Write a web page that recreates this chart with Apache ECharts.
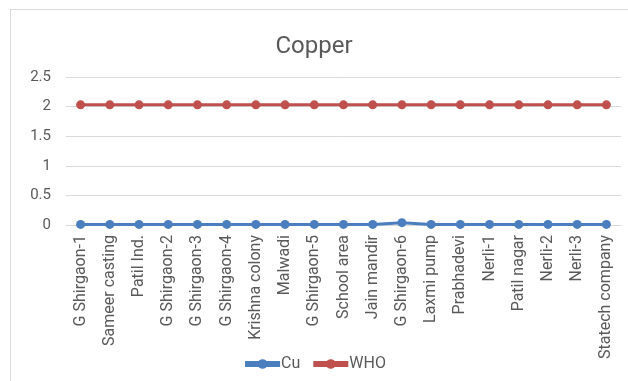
<!DOCTYPE html>
<html>
<head>
<meta charset="utf-8">
<script src="https://cdn.jsdelivr.net/npm/echarts@6/dist/echarts.min.js"></script>
<style>
  html, body { margin: 0; padding: 0; background: #fff; }
  #wrap { position: relative; width: 628px; height: 381px; overflow: hidden; }
  #frame { position: absolute; left: 10px; top: 9px; width: 640px; height: 400px; border: 1px solid #d9d9d9; box-sizing: border-box; }
  #chart { position: absolute; left: 0; top: 0; width: 628px; height: 381px; }
</style>
</head>
<body>
<div id="wrap">
  <div id="frame"></div>
  <div id="chart"></div>
</div>
<script>
// Sampling sites along the x axis
const sites = [
  'G Shirgaon-1', 'Sameer casting', 'Patil Ind.', 'G Shirgaon-2', 'G Shirgaon-3',
  'G Shirgaon-4', 'Krishna colony', 'Malwadi', 'G Shirgaon-5', 'School area',
  'Jain mandir', 'G Shirgaon-6', 'Laxmi pump', 'Prabhadevi', 'Nerli-1',
  'Patil nagar', 'Nerli-2', 'Nerli-3', 'Statech company'
];

// Copper concentration at each site
const cuValues = [0.01, 0.01, 0.01, 0.01, 0.01, 0.01, 0.01, 0.01, 0.01, 0.01,
                  0.01, 0.04, 0.01, 0.01, 0.01, 0.01, 0.01, 0.01, 0.01];

// WHO guideline limit
const whoValues = [2.03, 2.03, 2.03, 2.03, 2.03, 2.03, 2.03, 2.03, 2.03, 2.03,
                   2.03, 2.03, 2.03, 2.03, 2.03, 2.03, 2.03, 2.03, 2.03];

const yTicks = { min: 0, max: 2.5, interval: 0.5 };

const chart = echarts.init(document.getElementById('chart'), null, { renderer: 'canvas' });
const font = 'Roboto, "Liberation Sans", sans-serif';

chart.setOption({
  animation: false,
  backgroundColor: 'transparent',
  title: {
    text: 'Copper',
    left: 'center',
    top: 30,
    textStyle: { fontFamily: font, fontSize: 24, fontWeight: 'normal', color: '#595959' }
  },
  legend: {
    bottom: 4,
    left: 'center',
    itemWidth: 35,
    itemHeight: 12,
    itemGap: 10,
    lineStyle: { width: 6 },
    textStyle: { fontFamily: font, fontSize: 16, color: '#595959', padding: [0, 0, 0, -4] },
    data: ['Cu', 'WHO']
  },
  grid: { left: 66, right: 7, top: 77, bottom: 156, containLabel: false },
  xAxis: {
    type: 'category',
    data: sites,
    boundaryGap: true,
    axisLine: { show: true, lineStyle: { color: '#d9d9d9' } },
    axisTick: { show: false },
    axisLabel: {
      rotate: 90,
      interval: 0,
      margin: 10,
      fontFamily: font,
      fontSize: 16,
      color: '#595959'
    }
  },
  yAxis: {
    type: 'value',
    min: yTicks.min,
    max: yTicks.max,
    interval: yTicks.interval,
    axisLine: { show: false },
    axisTick: { show: false },
    splitLine: { lineStyle: { color: '#d9d9d9', width: 1 } },
    axisLabel: { fontFamily: font, fontSize: 15, color: '#595959', margin: 15 }
  },
  series: [
    {
      name: 'Cu',
      type: 'line',
      data: cuValues,
      symbol: 'circle',
      symbolSize: 9,
      lineStyle: { width: 3, color: '#4a7ebf' },
      itemStyle: { color: '#4a7ebf' }
    },
    {
      name: 'WHO',
      type: 'line',
      data: whoValues,
      symbol: 'circle',
      symbolSize: 9,
      lineStyle: { width: 3, color: '#c0504d' },
      itemStyle: { color: '#c0504d' }
    }
  ]
});
</script>
</body>
</html>
